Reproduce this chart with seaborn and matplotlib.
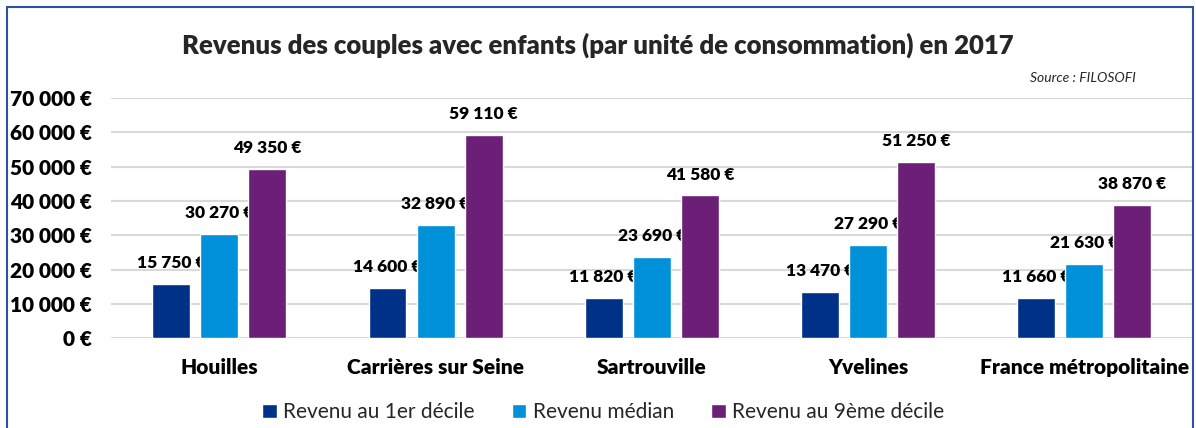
import pandas as pd
import matplotlib.pyplot as plt
import seaborn as sns
from matplotlib.patches import Rectangle
from matplotlib.ticker import FuncFormatter

# data
communes = ["Houilles", "Carrières sur Seine", "Sartrouville", "Yvelines", "France métropolitaine"]
series = ["Revenu au 1er décile", "Revenu médian", "Revenu au 9ème décile"]
decile_1 = [15750, 14600, 11820, 13470, 11660]
median = [30270, 32890, 23690, 27290, 21630]
decile_9 = [49350, 59110, 41580, 51250, 38870]
colors = ["#003189", "#0091DA", "#6C1F76"]

rows = []
for serie, vals in zip(series, [decile_1, median, decile_9]):
    for c, v in zip(communes, vals):
        rows.append({"commune": c, "serie": serie, "valeur": v})
df = pd.DataFrame(rows)

sns.set_theme(style="white")
plt.rcParams['font.family'] = ['Lato', 'DejaVu Sans']

fig = plt.figure(figsize=(11.96, 4.28), dpi=100)
ax = fig.add_axes([0.093, 0.21, 0.904, 0.561])

sns.barplot(data=df, x="commune", y="valeur", hue="serie", order=communes,
            hue_order=series, palette=colors, width=0.667, gap=0.21,
            saturation=1, ax=ax, zorder=2)

ax.set_ylim(0, 70000)
ax.set_yticks(range(0, 70001, 10000))
ax.yaxis.set_major_formatter(FuncFormatter(lambda v, p: f"{int(v):,} €".replace(",", " ")))
ax.grid(axis="y", color="#D9D9D9", linewidth=1.5, zorder=0)
ax.set_axisbelow(True)
for s in ax.spines.values():
    s.set_visible(False)
ax.tick_params(axis="y", length=0, pad=14, labelsize=15)
ax.tick_params(axis="x", length=0, pad=14, labelsize=15)
for lab in ax.get_yticklabels() + ax.get_xticklabels():
    lab.set_fontweight("heavy")
    lab.set_color("black")
ax.set_xlabel("")
ax.set_ylabel("")

# value labels, drawn under the bars like in the original
for cont in ax.containers:
    for bar in cont:
        h = bar.get_height()
        x = bar.get_x() + bar.get_width() / 2
        ax.text(x, h + 6100, f"{int(h):,} €".replace(",", " "), ha="center", va="center",
                fontsize=12.5, fontweight="heavy", color="black", zorder=1)

leg = ax.legend(loc="upper center", bbox_to_anchor=(0.455, -0.19), ncol=3, frameon=False,
                fontsize=15, handlelength=0.7, handleheight=0.7, handletextpad=0.3,
                columnspacing=1.8)

fig.text(0.5, 0.895, "Revenus des couples avec enfants (par unité de consommation) en 2017",
         ha="center", va="center", fontsize=18.5, fontweight="heavy")
fig.text(1136 / 1196, 1 - 78 / 428, "Source : FILOSOFI", ha="right", va="center",
         fontsize=10, style="italic")

fig.patches.append(Rectangle((7 / 1196, -0.05), 1186 / 1196, 1.0 - 7 / 428 + 0.05,
                             transform=fig.transFigure, fill=False, edgecolor="#2F52A0",
                             linewidth=1.5))

plt.savefig("out.png", dpi=100)
